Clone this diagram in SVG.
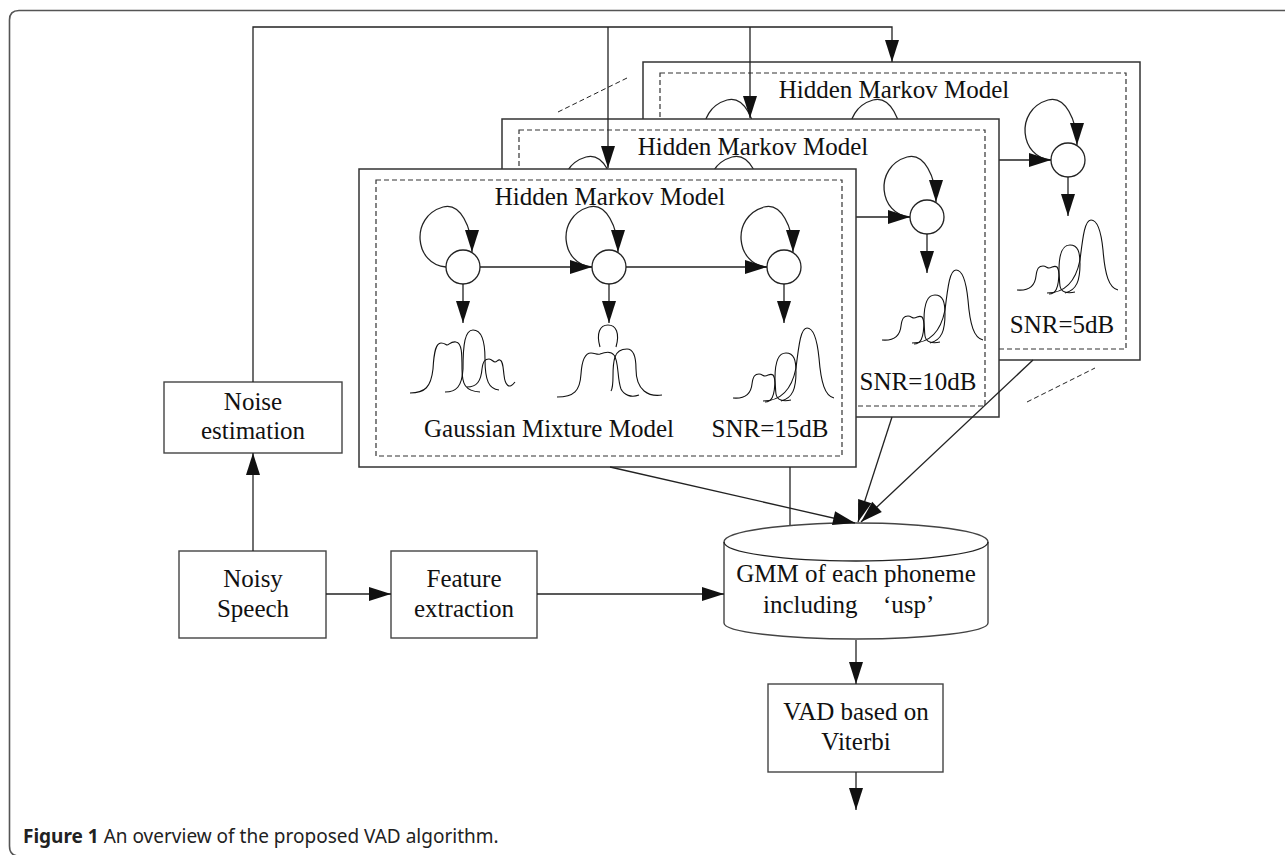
<svg xmlns="http://www.w3.org/2000/svg" xmlns:xlink="http://www.w3.org/1999/xlink" width="1285" height="855" viewBox="0 0 1285 855">
<style>
.frame{fill:none;stroke:#555;stroke-width:1.6}
.box{fill:#fff;stroke:#444;stroke-width:1.4}
.panel{fill:#fff;stroke:#333;stroke-width:1.5}
.dash{fill:none;stroke:#333;stroke-width:1.2;stroke-dasharray:5,3}
.ln{fill:none;stroke:#222;stroke-width:1.3}
.thin{fill:none;stroke:#111;stroke-width:1.1}
.st{fill:#fff;stroke:#222;stroke-width:1.3}
.t{font-family:"Liberation Serif","Times New Roman",serif;font-size:25px;fill:#111;text-anchor:middle}
.tl{font-family:"Liberation Serif","Times New Roman",serif;font-size:25px;fill:#111}
.cap{font-family:"Noto Sans","Open Sans",sans-serif;font-size:19px;fill:#222}
.dl{fill:none;stroke:#222;stroke-width:1;stroke-dasharray:5,3}
</style>
<defs>
<marker id="ah" markerUnits="userSpaceOnUse" markerWidth="24" markerHeight="16" refX="22" refY="7" orient="auto" overflow="visible">
<path d="M0,0 L22,7 L0,14 z" fill="#111"/>
</marker>
<g id="g3">
<path class="thin" d="M0,0 C12,1 18,-4 19,-14 C20,-22 22,-24 26,-24 C29,-24 30,-22 32,-22 C35,-22 37,-25 40,-23 C43,-20 42,-10 43,-4 C44,2 50,4 58,2"/>
<path class="thin" d="M32,4 C38,4 42,0 42,-20 C42,-38 46,-45 53,-45 C61,-45 63,-38 63,-26 C63,-10 60,0 48,3"/>
<path class="thin" d="M30,3 C45,3 58,-5 63,-30 C66,-55 68,-70 74,-70 C80,-70 84,-60 86,-40 C88,-15 92,-2 101,0"/>
</g>
<g id="hmm-body">
<rect class="panel" x="0" y="0" width="497" height="298"/>
<rect class="dash" x="17" y="11" width="466" height="276"/>
<path class="ln" marker-end="url(#ah)" d="M87,98 C56,96 50,48 84,38 C101,33 113,58 113,83"/>
<path class="ln" marker-end="url(#ah)" d="M233,98 C202,96 196,48 230,38 C247,33 259,58 259,83"/>
<path class="ln" marker-end="url(#ah)" d="M408,98 C377,96 371,48 405,38 C422,33 434,58 434,83"/>
<path class="ln" marker-end="url(#ah)" d="M121,98 L233,98"/>
<path class="ln" marker-end="url(#ah)" d="M267,98 L408,98"/>
<circle class="st" cx="104" cy="98" r="17"/>
<circle class="st" cx="250" cy="98" r="17"/>
<circle class="st" cx="425" cy="98" r="17"/>
<path class="ln" marker-end="url(#ah)" d="M104,115 L104,154"/>
<path class="ln" marker-end="url(#ah)" d="M250,115 L250,154"/>
<path class="ln" marker-end="url(#ah)" d="M425,115 L425,154"/>
<path class="thin" d="M51,224 C66,224 72,218 74,200 C75,182 77,174 82,174 C86,174 87,176 88,176 C90,176 92,172 97,173 C103,174 103,185 103,200 C103,215 106,222 121,223"/>
<path class="thin" d="M86,223 C97,223 103,218 104,200 C104,175 106,161 114,161 C122,161 126,170 126,190 C126,212 130,220 140,221"/>
<path class="thin" d="M108,218 C118,218 122,212 123,200 C124,192 126,190 130,190 C133,190 134,193 136,193 C138,193 139,190 141,191 C144,192 144,198 145,206 C146,216 150,221 156,213"/>
<path class="thin" d="M241,178 C237,164 241,156 249,156 C257,156 261,164 257,178"/>
<path class="thin" d="M198,228 C215,228 221,222 222,205 C223,190 226,184 232,184 C236,184 238,186 241,185 C246,183 252,182 255,186 C260,192 258,210 262,220 C265,226 272,229 280,226"/>
<path class="thin" d="M252,222 C256,215 252,200 256,188 C258,182 262,180 268,180 C275,180 277,188 277,200 C277,222 290,228 303,226"/>
</g>
</defs>

<path class="frame" d="M1300,10.5 H19 Q9.5,10.5 9.5,20 V846 Q9.5,856 19,856"/>

<g id="panel-snr5" transform="translate(643,62)">
<use xlink:href="#hmm-body"/>
<use xlink:href="#g3" transform="translate(374,228)"/>
<text class="t" x="251" y="36">Hidden Markov Model</text>
<text class="t" x="419" y="271">SNR=5dB</text>
</g>

<g id="panel-snr10" transform="translate(502,119)">
<use xlink:href="#hmm-body"/>
<use xlink:href="#g3" transform="translate(380,221)"/>
<text class="t" x="251" y="36">Hidden Markov Model</text>
<text class="t" x="416" y="271">SNR=10dB</text>
</g>

<g id="panel-snr15" transform="translate(359,169)">
<use xlink:href="#hmm-body"/>
<use xlink:href="#g3" transform="translate(374,229)"/>
<text class="t" x="251" y="36">Hidden Markov Model</text>
<text class="t" x="411" y="268">SNR=15dB</text>
<text class="t" x="190" y="268">Gaussian Mixture Model</text>
</g>

<g id="stack-marks">
<path class="dl" d="M558,112 L627,78"/>
<path class="dl" d="M1027,402 L1095,368"/>
</g>

<g id="noise-estimation">
<rect class="box" x="164" y="382" width="178" height="71"/>
<text class="t" x="253" y="410">Noise</text>
<text class="t" x="253" y="439">estimation</text>
</g>

<g id="noisy-speech">
<rect class="box" x="179" y="551" width="147" height="87"/>
<text class="t" x="253" y="587">Noisy</text>
<text class="t" x="253" y="617">Speech</text>
</g>

<g id="feature-extraction">
<rect class="box" x="391" y="551" width="146" height="87"/>
<text class="t" x="464" y="587">Feature</text>
<text class="t" x="464" y="617">extraction</text>
</g>

<g id="gmm">
<path class="box" d="M724,542 A132,19 0 0 1 988,542 V623 A132,16 0 0 1 724,623 Z"/>
<path class="ln" d="M724,542 A132,19 0 0 0 988,542"/>
<text class="t" x="856" y="582">GMM of each phoneme</text>
<text class="tl" x="763" y="613">including<tspan x="883">‘usp’</tspan></text>
</g>

<g id="vad">
<rect class="box" x="768" y="684" width="175" height="88"/>
<text class="t" x="856" y="720">VAD based on</text>
<text class="t" x="856" y="750">Viterbi</text>
</g>

<g id="connectors">
<path class="ln" marker-end="url(#ah)" d="M253,382 L253,27 L892,27 L892,62"/>
<path class="ln" marker-end="url(#ah)" d="M608,27 L608,168"/>
<path class="ln" marker-end="url(#ah)" d="M750,27 L750,118"/>
<path class="ln" marker-end="url(#ah)" d="M253,551 L253,453"/>
<path class="ln" marker-end="url(#ah)" d="M326,594 L391,594"/>
<path class="ln" marker-end="url(#ah)" d="M537,594 L724,594"/>
<path class="ln" marker-end="url(#ah)" d="M610,467 L855,523"/>
<path class="ln" d="M790,467 L790,525"/>
<path class="ln" marker-end="url(#ah)" d="M892,417 L858,522"/>
<path class="ln" marker-end="url(#ah)" d="M1033,360 L861,522"/>
<path class="ln" marker-end="url(#ah)" d="M856,640 L856,684"/>
<path class="ln" marker-end="url(#ah)" d="M856,772 L856,810"/>
</g>

<text class="cap" x="23" y="843"><tspan font-weight="bold">Figure 1</tspan> An overview of the proposed VAD algorithm.</text>
</svg>
